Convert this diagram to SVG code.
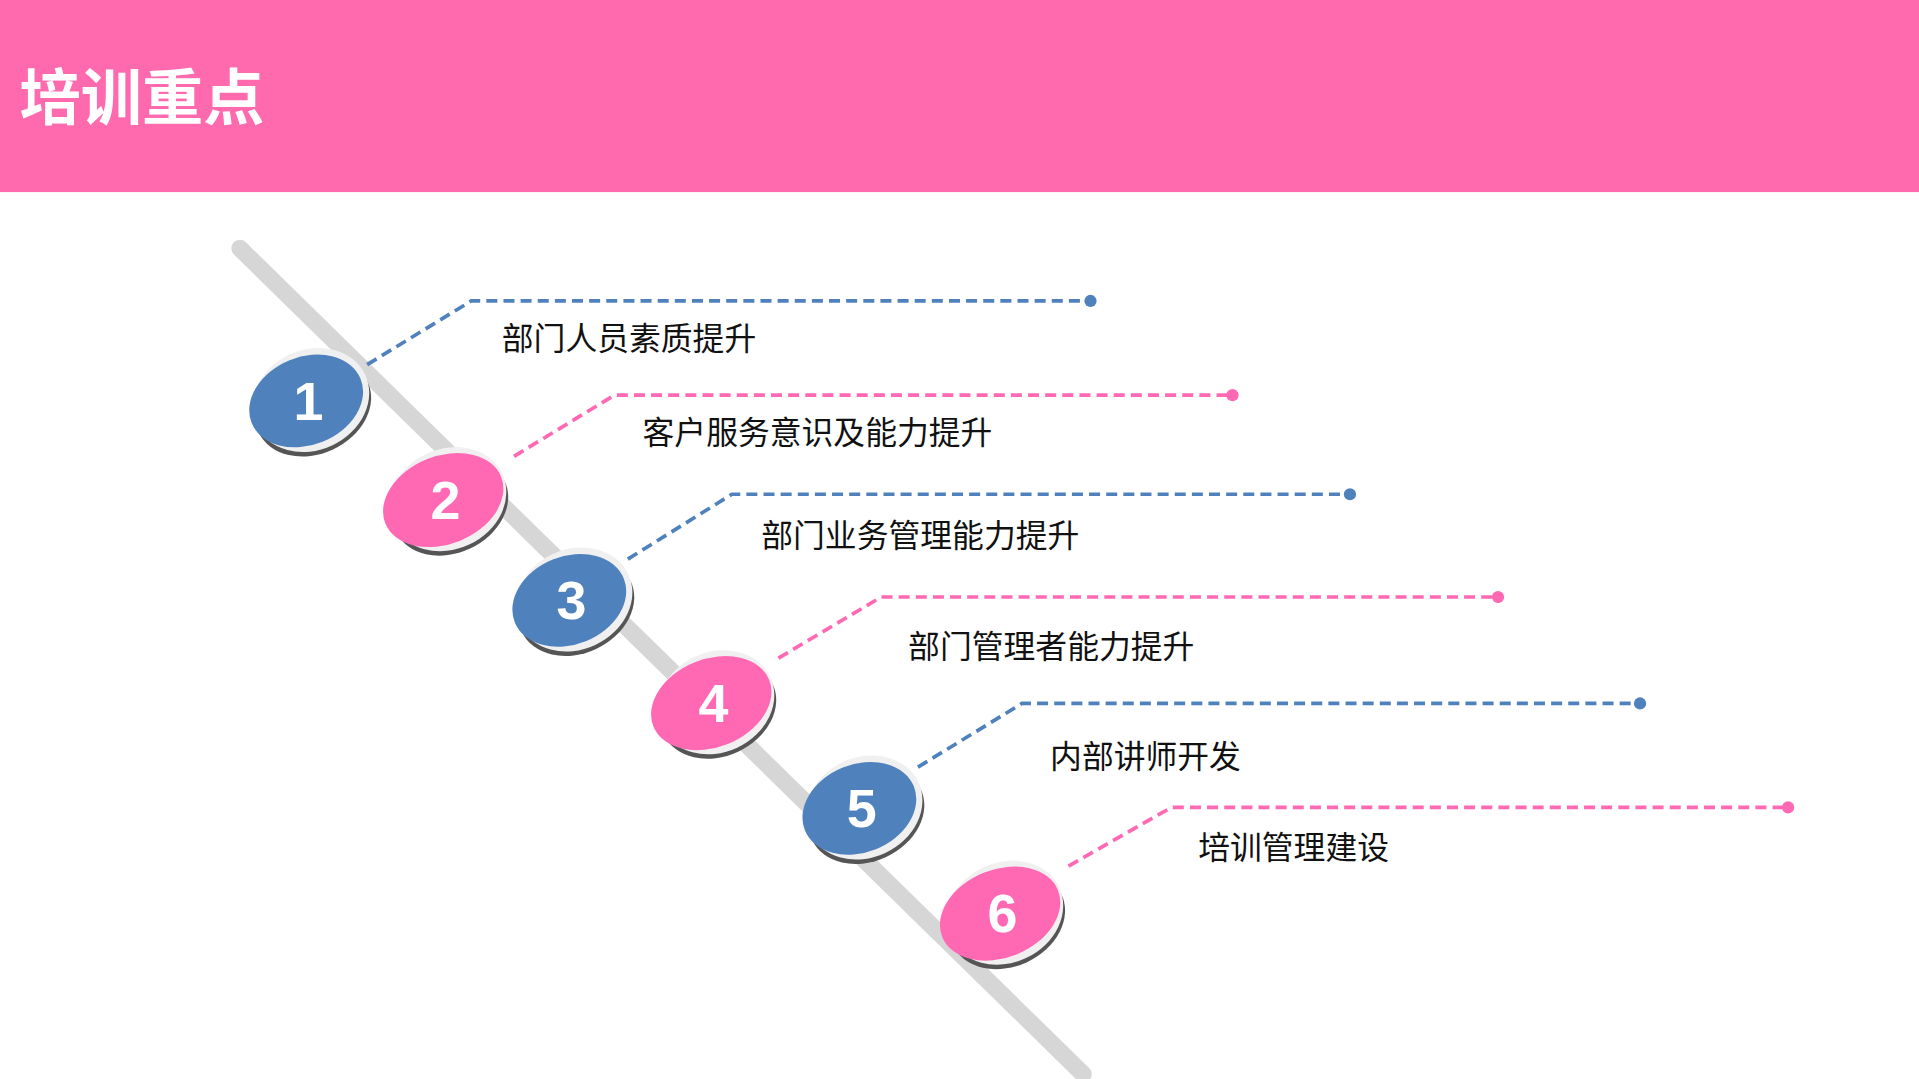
<svg xmlns="http://www.w3.org/2000/svg" width="1919" height="1079" viewBox="0 0 1919 1079">
<defs>
<style>
.lb{font-family:"Noto Sans CJK SC","Liberation Sans",sans-serif;font-size:26px;fill:#111}
.num{font-family:"Liberation Sans",sans-serif;font-weight:bold;font-size:44px;fill:#fff;text-anchor:middle}
.cb{fill:none;stroke:#4F81BD;stroke-width:3;stroke-dasharray:9 5}
.cp{fill:none;stroke:#FF69B4;stroke-width:3;stroke-dasharray:9 5}
</style>
<linearGradient id="rod" x1="0" y1="0" x2="1" y2="-1"><stop offset="0" stop-color="#d6d6d6"/><stop offset="1" stop-color="#f0f0f0"/></linearGradient>
<g id="disc"><ellipse cx="4" cy="6" rx="49" ry="38" fill="#555" transform="rotate(-25 4 6)"/><ellipse cx="2" cy="0" rx="49" ry="41" fill="#f0f0f0" transform="rotate(-25 2 0)"/></g>
</defs>
<rect width="1919" height="1079" fill="#fff"/>
<g transform="scale(1.2239 1.2234)">
<rect x="0" y="0" width="1568" height="157" fill="#FF69AD"/>
<text x="16" y="98" font-family="Noto Sans CJK SC,sans-serif" font-weight="bold" font-size="50" fill="#fff">培训重点</text>
<line x1="196" y1="203" x2="885" y2="878" stroke="url(#rod)" stroke-width="14" stroke-linecap="round"/>
<g id="connectors">
<polyline class="cb" points="300,298 385,246 891,246"/><circle cx="891" cy="246" r="5" fill="#4F81BD"/>
<polyline class="cp" points="420,373 502,323 1007,323"/><circle cx="1007" cy="323" r="5" fill="#FF69B4"/>
<polyline class="cb" points="513,457 598,404 1103,404"/><circle cx="1103" cy="404" r="5" fill="#4F81BD"/>
<polyline class="cp" points="636,538 720,488 1224,488"/><circle cx="1224" cy="488" r="5" fill="#FF69B4"/>
<polyline class="cb" points="750,627 835,575 1340,575"/><circle cx="1340" cy="575" r="5" fill="#4F81BD"/>
<polyline class="cp" points="873,708 957,660 1461,660"/><circle cx="1461" cy="660" r="5" fill="#FF69B4"/>
</g>
<g id="n1" transform="translate(252,327)"><use href="#disc"/><ellipse cx="-2" cy="0" rx="48" ry="36" fill="#4F81BD" transform="rotate(-22)"/><text class="num" y="16">1</text></g>
<g id="n2" transform="translate(364,408)"><use href="#disc"/><ellipse cx="-2" cy="0" rx="51" ry="36" fill="#FF69B4" transform="rotate(-22)"/><text class="num" y="16">2</text></g>
<g id="n3" transform="translate(467,490)"><use href="#disc"/><ellipse cx="-2" cy="0" rx="48" ry="36" fill="#4F81BD" transform="rotate(-22)"/><text class="num" y="16">3</text></g>
<g id="n4" transform="translate(583,574)"><use href="#disc"/><ellipse cx="-2" cy="0" rx="51" ry="36" fill="#FF69B4" transform="rotate(-22)"/><text class="num" y="16">4</text></g>
<g id="n5" transform="translate(704,660)"><use href="#disc"/><ellipse cx="-2" cy="0" rx="48" ry="36" fill="#4F81BD" transform="rotate(-22)"/><text class="num" y="16">5</text></g>
<g id="n6" transform="translate(819,746)"><use href="#disc"/><ellipse cx="-2" cy="0" rx="51" ry="36" fill="#FF69B4" transform="rotate(-22)"/><text class="num" y="16">6</text></g>
<g id="labels">
<text class="lb" x="410" y="286">部门人员素质提升</text>
<text class="lb" x="525" y="363">客户服务意识及能力提升</text>
<text class="lb" x="622" y="447">部门业务管理能力提升</text>
<text class="lb" x="742" y="538">部门管理者能力提升</text>
<text class="lb" x="858" y="628">内部讲师开发</text>
<text class="lb" x="979" y="702">培训管理建设</text>
</g>
</g>
</svg>
